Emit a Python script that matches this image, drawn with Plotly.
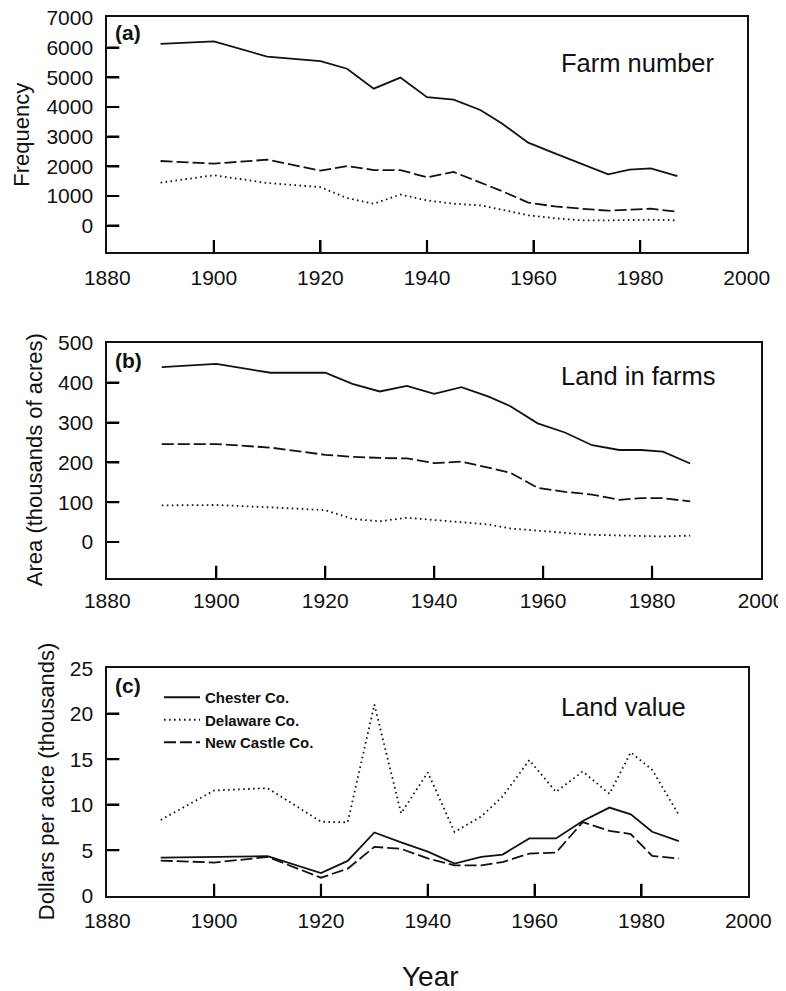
import plotly.graph_objects as go

W, H = 786, 991
OFF = 8  # page body margin shifts the figure by this many pixels
FONT = "Liberation Sans, Arial, sans-serif"
TICK_PX = 12

years = [1890, 1900, 1910, 1920, 1925, 1930, 1935, 1940, 1945, 1950,
         1954, 1959, 1964, 1969, 1974, 1978, 1982, 1987]

# (a) Farm number
farms_chester = [6130, 6210, 5700, 5550, 5290, 4620, 4990, 4330, 4250, 3900,
                 3450, 2800, 2440, 2080, 1730, 1890, 1930, 1670]
farms_delaware = [1450, 1700, 1440, 1300, 930, 740, 1050, 850, 740, 685,
                  540, 350, 250, 180, 180, 200, 200, 180]
farms_newcastle = [2180, 2090, 2225, 1855, 2010, 1876, 1876, 1630, 1810, 1450,
                   1170, 780, 650, 573, 505, 540, 573, 470]

# (b) Land in farms (thousands of acres)
land_chester = [439, 447, 425, 425, 397, 378, 392, 372, 389, 365,
                341, 298, 275, 243, 231, 231, 227, 197]
land_delaware = [92, 93, 87, 80, 58, 52, 61, 55, 50, 44,
                 34, 28, 23, 18, 17, 16, 14, 16]
land_newcastle = [246, 246, 237, 219, 214, 211, 210, 198, 202, 186,
                  174, 136, 126, 119, 106, 110, 110, 102]

# (c) Land value (thousand dollars per acre)
value_chester = [4.19, 4.23, 4.34, 2.49, 3.82, 6.95, 5.85, 4.85, 3.52, 4.26,
                 4.52, 6.29, 6.29, 8.2, 9.68, 8.94, 7.02, 5.99]
value_delaware = [8.32, 11.56, 11.82, 8.13, 8.06, 21.0, 9.05, 13.55, 7.0, 8.7,
                  10.9, 14.9, 11.4, 13.65, 11.19, 15.75, 13.84, 8.87]
value_newcastle = [3.86, 3.64, 4.26, 1.98, 2.97, 5.37, 5.15, 4.1, 3.34, 3.34,
                   3.7, 4.63, 4.74, 8.09, 7.13, 6.77, 4.37, 4.08]

county_names = ["Chester Co.", "Delaware Co.", "New Castle Co."]
x_ticks = [1880, 1900, 1920, 1940, 1960, 1980, 2000]
X_RANGE = [1880, 2000]

styles = {
    "Chester Co.": dict(color="#111", width=1.8, dash="solid"),
    "Delaware Co.": dict(color="#111", width=1.8, dash="1.6px,3.4px"),
    "New Castle Co.": dict(color="#111", width=1.8, dash="12px,4px"),
}

panels = [
    dict(series=[farms_chester, farms_delaware, farms_newcastle],
         xdom=(107.3, 746.7), ytop=17.3, ybot=252.3, yrange=[-897, 7024],
         yticks=[0, 1000, 2000, 3000, 4000, 5000, 6000, 7000],
         ytitle="Frequency", ytitle_x=22, label="(a)", title="Farm number",
         title_y=63, label_y=33, legend=False, xstand=5),
    dict(series=[land_chester, land_delaware, land_newcastle],
         xdom=(107.3, 761.0), ytop=342.7, ybot=577.7, yrange=[-89.6, 500.4],
         yticks=[0, 100, 200, 300, 400, 500],
         ytitle="Area (thousands of acres)", ytitle_x=34, label="(b)",
         title="Land in farms", title_y=376.5, label_y=360, legend=False,
         xstand=3),
    dict(series=[value_chester, value_delaware, value_newcastle],
         xdom=(107.3, 748.3), ytop=667.7, ybot=895.7, yrange=[0, 25.05],
         yticks=[0, 5, 10, 15, 20, 25],
         ytitle="Dollars per acre (thousands)", ytitle_x=46.5, label="(c)",
         title="Land value", title_y=706.5, label_y=685, legend=True,
         xstand=5),
]


def px_x(v):
    return (v - OFF) / W


def px_y(v):
    return 1 - (v - OFF) / H


fig = go.Figure()
annotations = []
layout = {}

for i, p in enumerate(panels, start=1):
    xa = "x" if i == 1 else f"x{i}"
    ya = "y" if i == 1 else f"y{i}"
    for name, vals in zip(county_names, p["series"]):
        fig.add_trace(go.Scatter(
            x=years, y=vals, mode="lines", name=name,
            line=styles[name], xaxis=xa, yaxis=ya,
            showlegend=p["legend"], hoverinfo="skip"))

    # inward tick marks at the axis tick values (length converted from px)
    w_px = p["xdom"][1] - p["xdom"][0]
    h_px = p["ybot"] - p["ytop"]
    yr = p["yrange"]
    y_len = TICK_PX / h_px * (yr[1] - yr[0])
    x_len = TICK_PX / w_px * (X_RANGE[1] - X_RANGE[0])
    tx, ty = [], []
    for t in x_ticks[1:-1]:
        tx += [t, t, None]
        ty += [yr[0], yr[0] + y_len, None]
    for t in p["yticks"][:-1]:
        if t > yr[0]:
            tx += [X_RANGE[0], X_RANGE[0] + x_len, None]
            ty += [t, t, None]
    fig.add_trace(go.Scatter(
        x=tx, y=ty, mode="lines", xaxis=xa, yaxis=ya, showlegend=False,
        hoverinfo="skip", connectgaps=False,
        line=dict(color="#000", width=2.2)))

    xdom = [px_x(p["xdom"][0]), px_x(p["xdom"][1])]
    ydom = [px_y(p["ybot"]), px_y(p["ytop"])]
    base = dict(showgrid=False, zeroline=False, automargin=False,
                showline=True, linecolor="#111", linewidth=2, mirror=True,
                ticks="inside", ticklen=TICK_PX, tickwidth=2.2, tickcolor="#000",
                ticklabeloverflow="allow",
                tickfont=dict(family=FONT, size=21, color="#111"))
    layout["xaxis" if i == 1 else f"xaxis{i}"] = dict(
        base, domain=xdom, range=X_RANGE, tickmode="array",
        tickvals=x_ticks, anchor=ya, ticklabelstandoff=p["xstand"])
    layout["yaxis" if i == 1 else f"yaxis{i}"] = dict(
        base, domain=ydom, range=yr, tickmode="array",
        tickvals=p["yticks"], anchor=xa, ticklabelstandoff=8)

    annotations.append(dict(
        text=p["ytitle"], x=px_x(p["ytitle_x"]),
        y=px_y((p["ytop"] + p["ybot"]) / 2),
        xref="paper", yref="paper", xanchor="center", yanchor="middle",
        textangle=-90, showarrow=False,
        font=dict(family=FONT, size=22, color="#111")))
    annotations.append(dict(
        text="<b>" + p["label"] + "</b>", x=px_x(113), y=px_y(p["label_y"]),
        xref="paper", yref="paper", xanchor="left", yanchor="middle",
        showarrow=False, font=dict(family=FONT, size=21, color="#111")))
    annotations.append(dict(
        text=p["title"], x=px_x(559), y=px_y(p["title_y"]),
        xref="paper", yref="paper", xanchor="left", yanchor="middle",
        showarrow=False, font=dict(family=FONT, size=25.5, color="#111")))

annotations.append(dict(
    text="Year", x=px_x(431), y=px_y(976.5), xref="paper", yref="paper",
    xanchor="center", yanchor="middle", showarrow=False,
    font=dict(family=FONT, size=28, color="#111")))

fig.update_layout(
    width=W, height=H,
    margin=dict(l=0, r=0, t=0, b=0, autoexpand=False),
    paper_bgcolor="white", plot_bgcolor="white",
    annotations=annotations,
    showlegend=True,
    legend=dict(x=px_x(159), y=px_y(681), xanchor="left", yanchor="top",
                bgcolor="rgba(0,0,0,0)", borderwidth=0,
                font=dict(family=FONT, size=15, color="#111", weight="bold"),
                tracegroupgap=0, itemwidth=36),
    **layout,
)

fig.write_html("out.html")
